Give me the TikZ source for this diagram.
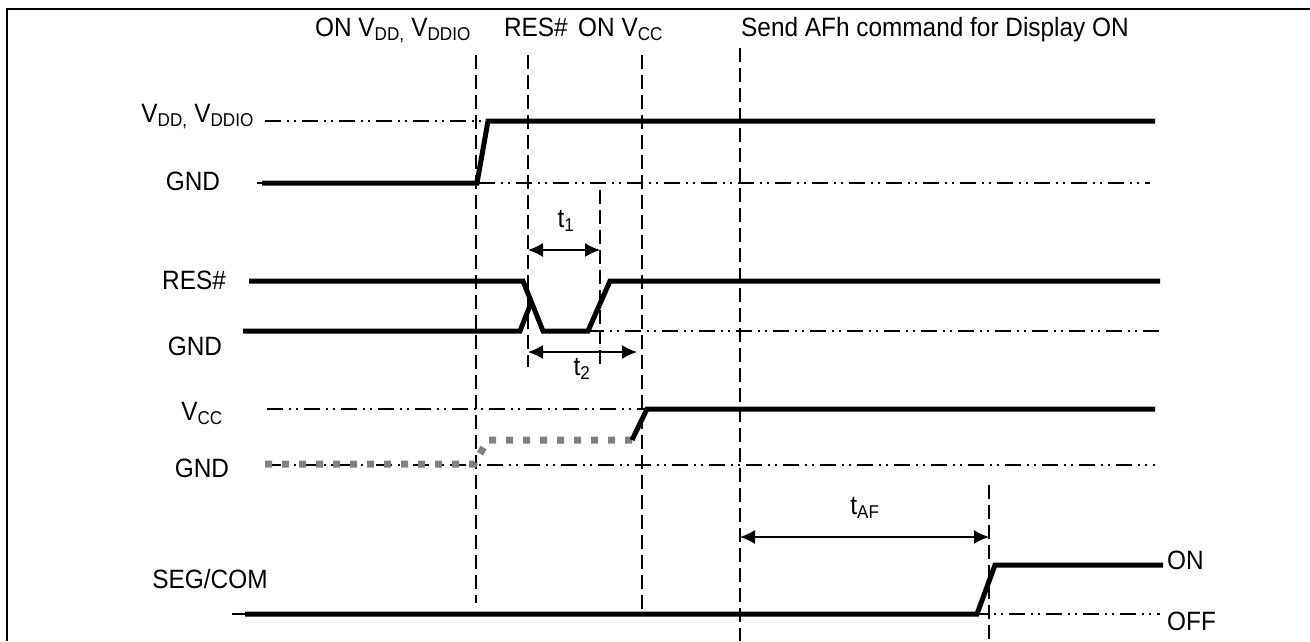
\documentclass[tikz,border=0pt]{standalone}
\usepackage{fontspec}
\setmainfont{Liberation Sans}[FakeStretch=0.92]
\usetikzlibrary{arrows.meta}

\begin{document}
\begin{tikzpicture}[x=1pt, y=-1pt,
			font=\fontsize{26.5}{30}\selectfont,
			sig/.style      = {black, line width=5pt},
			refline/.style  = {black, line width=1.3pt, dash pattern=on 16pt off 6pt on 2pt off 5pt on 2pt off 6pt},
			marker/.style   = {black, line width=1.5pt, dash pattern=on 14pt off 6pt},
			offline/.style  = {gray, line width=7pt, dash pattern=on 7pt off 10pt},
			dimarrow/.style = {black, line width=1.5pt, {Latex[length=15pt,width=14pt]}-{Latex[length=15pt,width=14pt]}},
			lbl/.style      = {anchor=base, inner sep=0pt},]
			
			\useasboundingbox (0,0) rectangle (1310,641);
			\draw[black, line width=2.5pt] (7,641) -- (7,9) -- (1310,9);
			
			%% EVENT MARKERS
			\coordinate (onVdd)  at (476,55);
			\coordinate (onRes)  at (528,55);
			\coordinate (tOneEnd) at (600,190);
			\coordinate (onVcc)  at (642,55);
			\coordinate (sendAF) at (740,48);
			\coordinate (tAFEnd) at (989,485);
			\node (hVdd) [lbl, anchor=base east] at (471,36) {ON V\textsubscript{DD,} V\textsubscript{DDIO}};
			\node (hRes) [lbl, anchor=base east] at (568,36) {RES\#};
			\node (hVcc) [lbl, anchor=base west] at (578,36) {ON V\textsubscript{CC}};
			\node (hAF) [lbl, anchor=base west] at (741,36) {Send AFh command for Display ON};
			\draw[marker] (onVdd) -- (onVdd |- 0,603);
			\draw[marker] (onRes) -- (onRes |- 0,367);
			\draw[marker] (tOneEnd) -- (tOneEnd |- 0,367);
			\draw[marker] (onVcc) -- (onVcc |- 0,615);
			\draw[marker] (sendAF) -- (sendAF |- 0,641);
			\draw[marker] (tAFEnd) -- (tAFEnd |- 0,641);
			
			%% VDD, VDDIO
			\node (lVdd) [lbl, anchor=base east] at (254,122) {V\textsubscript{DD,} V\textsubscript{DDIO}};
			\node (lGndA) [lbl] at (193,190) {GND};
			\draw[refline] (265,121) -- (488,121);
			\draw[refline] (257,183) -- (1150,183);
			\draw[sig] (262,183) -- (477,183) -- (488,121) -- (1155,121);
			
			%% RES#
			\node (lRes) [lbl] at (194,289) {RES\#};
			\node (lGndB) [lbl] at (195,355) {GND};
			\draw[refline] (588,331) -- (1160,331);
			\draw[sig] (249,281) -- (523,281) -- (543,331) -- (588,331) -- (610,281) -- (1160,281);
			\draw[sig] (243,331) -- (520,331) -- (531,303);
			\draw[dimarrow] (onRes |- 0,250) -- (tOneEnd |- 0,250);
			\node (tOne) [lbl] at (566,227) {t\textsubscript{1}};
			\draw[dimarrow] (onRes |- 0,352) -- (637,352);
			\node (tTwo) [lbl] at (582,375) {t\textsubscript{2}};
			
			%% VCC
			\node (lVcc) [lbl] at (202,420) {V\textsubscript{CC}};
			\node (lGndC) [lbl] at (202,477) {GND};
			\draw[refline] (267,409) -- (645,409);
			\draw[refline] (265,465) -- (1155,465);
			\draw[offline] (265,464) -- (474,464) -- (488,440) -- (632,440);
			\draw[sig] (632,440) -- (647,409) -- (1155,409);
			
			%% SEG/COM
			\node (lSeg) [lbl] at (210,588) {SEG/COM};
			\node (lOn) [lbl, anchor=base west] at (1167,569) {ON};
			\node (lOff) [lbl, anchor=base west] at (1167,630) {OFF};
			\draw[refline] (232,614) -- (1160,614);
			\draw[sig] (245,614) -- (977,614) -- (995,565) -- (1163,565);
			\draw[dimarrow] (sendAF |- 0,537) -- (tAFEnd |- 0,537);
			\node (tAF) [lbl] at (865,514) {t\textsubscript{AF}};
			\end{tikzpicture}
\end{document}
